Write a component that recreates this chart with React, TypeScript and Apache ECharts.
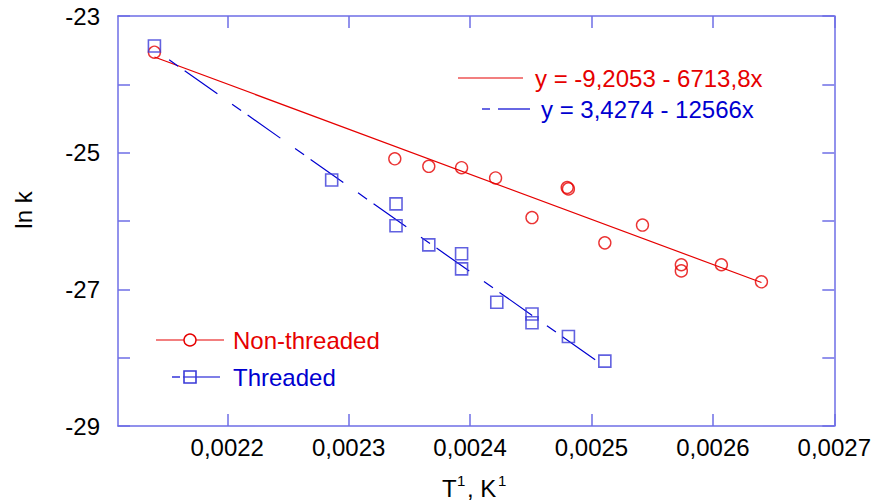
import React, { useEffect, useRef } from "react";
import * as echarts from "echarts";

// Non-threaded (circles)
const nonThreadedX = [0.00214, 0.002338, 0.002366, 0.002393, 0.002421, 0.002451, 0.00248, 0.002481, 0.002511, 0.002542, 0.002574, 0.002574, 0.002607, 0.00264];
const nonThreadedY = [-23.53, -25.09, -25.2, -25.22, -25.37, -25.95, -25.51, -25.53, -26.32, -26.06, -26.64, -26.73, -26.64, -26.89];
// Threaded (squares)
const threadedX = [0.00214, 0.002286, 0.002339, 0.002339, 0.002366, 0.002393, 0.002393, 0.002422, 0.002451, 0.002451, 0.002481, 0.002511];
const threadedY = [-23.44, -25.4, -25.75, -26.07, -26.35, -26.48, -26.7, -27.19, -27.36, -27.49, -27.69, -28.05];
// Fit line endpoints
const fitNonX = [0.00214, 0.00264];
const fitNonY = [-23.6, -26.9];
const fitThrX = [0.00214, 0.002511];
const fitThrY = [-23.49, -28.13];
// Axis ticks
const xTicks = [0.0022, 0.0023, 0.0024, 0.0025, 0.0026, 0.0027];
const xMin = 0.00211;
const xMax = 0.0027;
const yMin = -29;
const yMax = -23;

const legendNames = ["Non-threaded", "Threaded"];
const equations = ["y = -9,2053 - 6713,8x", "y = 3,4274 - 12566x"];

const RED = "#e60000";
const BLUE = "#0000d0";
const AXIS = "#6e6ee6";
const FONT = '"Liberation Sans", Arial, sans-serif';

const zip = (xs: number[], ys: number[]) => xs.map((x, i) => [x, ys[i]]);

export default function App() {
  const ref = useRef<HTMLDivElement>(null);
  useEffect(() => {
    if (!ref.current) return;
    const chart = echarts.init(ref.current, undefined, { renderer: "svg" });
    const axisLine = { show: true, lineStyle: { color: AXIS, width: 1.5 } };
    const tickStyle = { show: true, inside: true, length: 12, lineStyle: { color: AXIS, width: 1.5 } };
    const text = (x: number, y: number, t: string, fill: string, size = 24, extra: any = {}) => ({
      type: "text",
      x,
      y,
      ...extra,
      style: { text: t, fill, fontSize: size, fontFamily: FONT, align: "left", verticalAlign: "middle", ...(extra.style || {}) },
    });
    chart.setOption({
      animation: false,
      grid: { left: 118, right: 36, top: 16, bottom: 78 },
      xAxis: [
        {
          type: "value",
          position: "bottom",
          min: xMin,
          max: xMax,
          axisLine,
          splitLine: { show: false },
          axisTick: { ...tickStyle, customValues: xTicks },
          axisLabel: {
            customValues: xTicks,
            fontSize: 24,
            fontFamily: FONT,
            color: "#000",
            margin: 9,
            formatter: (v: number) => v.toFixed(4).replace(".", ","),
          },
        },
        {
          type: "value",
          position: "top",
          min: xMin,
          max: xMax,
          axisLine,
          splitLine: { show: false },
          axisTick: { ...tickStyle, customValues: xTicks },
          axisLabel: { show: false },
        },
      ],
      yAxis: [
        {
          type: "value",
          position: "left",
          min: yMin,
          max: yMax,
          interval: 1,
          axisLine,
          splitLine: { show: false },
          axisTick: tickStyle,
          axisLabel: {
            fontSize: 24,
            fontFamily: FONT,
            color: "#000",
            margin: 18,
            formatter: (v: number) => (Math.abs(v) % 2 === 1 ? String(v) : ""),
          },
        },
        {
          type: "value",
          position: "right",
          min: yMin,
          max: yMax,
          interval: 1,
          axisLine,
          splitLine: { show: false },
          axisTick: tickStyle,
          axisLabel: { show: false },
        },
      ],
      series: [
        {
          type: "line",
          data: zip(fitNonX, fitNonY),
          showSymbol: false,
          symbol: "none",
          lineStyle: { color: RED, width: 1.2 },
          z: 1,
        },
        {
          type: "line",
          data: zip(fitThrX, fitThrY),
          showSymbol: false,
          symbol: "none",
          lineStyle: { color: BLUE, width: 1.2, type: [40, 18, 11, 8], dashOffset: 40 },
          z: 1,
        },
        {
          name: legendNames[0],
          type: "scatter",
          data: zip(nonThreadedX, nonThreadedY),
          symbol: "circle",
          symbolSize: 12,
          itemStyle: { color: "rgba(0,0,0,0)", borderColor: RED, borderWidth: 1.4 },
          z: 3,
        },
        {
          name: legendNames[1],
          type: "scatter",
          data: zip(threadedX, threadedY),
          symbol: "rect",
          symbolSize: 12,
          itemStyle: { color: "rgba(0,0,0,0)", borderColor: "#3a3ad8", borderWidth: 1.6 },
          z: 3,
        },
      ],
      graphic: [
        // equations
        { type: "line", shape: { x1: 458, y1: 78, x2: 523, y2: 78 }, style: { stroke: RED, lineWidth: 1.2 } },
        text(535, 78, equations[0], RED),
        { type: "line", shape: { x1: 482, y1: 109, x2: 490, y2: 109 }, style: { stroke: BLUE, lineWidth: 1.2 } },
        { type: "line", shape: { x1: 498, y1: 109, x2: 530, y2: 109 }, style: { stroke: BLUE, lineWidth: 1.2 } },
        text(541, 109, equations[1], BLUE),
        // legend
        { type: "line", shape: { x1: 156, y1: 340, x2: 224, y2: 340 }, style: { stroke: RED, lineWidth: 1.2 } },
        { type: "circle", shape: { cx: 190, cy: 340, r: 6 }, style: { fill: "#fff", stroke: RED, lineWidth: 1.4 } },
        text(233, 340, legendNames[0], RED),
        { type: "line", shape: { x1: 172, y1: 377, x2: 180, y2: 377 }, style: { stroke: BLUE, lineWidth: 1.2 } },
        { type: "line", shape: { x1: 183, y1: 377, x2: 220, y2: 377 }, style: { stroke: BLUE, lineWidth: 1.2 } },
        { type: "rect", shape: { x: 184, y: 371, width: 12, height: 12 }, style: { fill: "none", stroke: "#3a3ad8", lineWidth: 1.6 } },
        text(233, 377, legendNames[1], BLUE),
        // axis titles
        text(23, 210, "ln k", "#000", 24, { rotation: Math.PI / 2, style: { align: "center" } }),
        text(442, 488, "T", "#000", 24),
        text(457, 480, "1", "#000", 15),
        text(467, 488, ", K", "#000", 24),
        text(498, 480, "1", "#000", 15),
      ],
    });
    return () => chart.dispose();
  }, []);
  return (
    <div
      ref={ref}
      style={{ position: "fixed", left: 0, top: 0, width: 874, height: 504, background: "#fff" }}
    />
  );
}
